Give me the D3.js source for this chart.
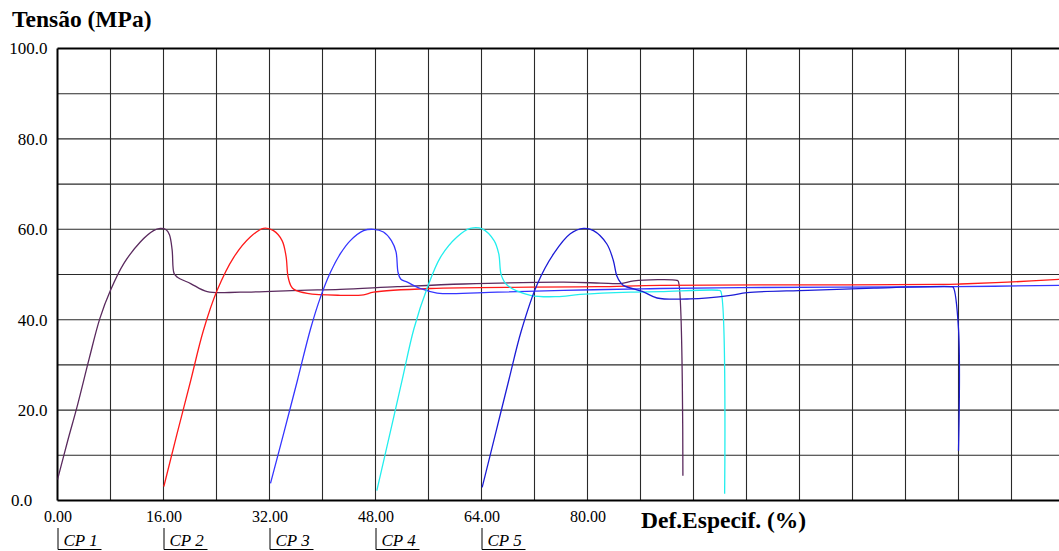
<!DOCTYPE html>
<html>
<head>
<meta charset="utf-8">
<script src="https://cdn.jsdelivr.net/npm/d3@7"></script>
<style>
  html, body { margin: 0; padding: 0; background: #fff; overflow: hidden; }
  svg { display: block; }
  text { font-family: "Liberation Serif", "Times New Roman", serif; }
</style>
</head>
<body>
<svg id="chart" width="1059" height="551"></svg>
<script>
// Specimen names and their starting strain offset (each curve is shifted along the axis)
const specimens = ["CP 1", "CP 2", "CP 3", "CP 4", "CP 5"];
const specimenOffsets = [0, 16, 32, 48, 64];
const specimenColors = ["#5a2a5e", "#ff1a1a", "#3535ff", "#22eeee", "#1c1cd6"];

// Stress–strain readings: [strain (%), stress (MPa)]
const cp1 = [[0.0,4.6],[1.5,13.0],[3.0,21.0],[4.8,31.5],[6.4,40.3],[8.0,46.5],[10.0,52.4],[12.5,57.2],[14.5,59.7],[15.5,60.2],[16.4,59.9],[16.9,58.8],[17.3,55.5],[17.6,50.2],[18.1,49.4],[20.1,48.0],[22.6,46.2],[27.6,46.1],[36.7,46.5],[42.7,46.7],[51.3,47.3],[61.3,47.9],[76.4,48.3],[82.0,48.1],[85.0,48.0],[87.0,48.6],[93.5,48.7],[93.7,48.5],[94.4,5.5]];
const cp2 = [[16.05,3.1],[18.0,14.5],[20.1,26.5],[22.0,37.5],[24.1,46.5],[26.6,53.8],[29.1,58.3],[31.1,60.2],[32.6,59.7],[33.9,57.5],[34.5,54.0],[34.8,49.5],[35.3,47.3],[35.7,46.7],[37.7,45.8],[42.7,45.4],[46.2,45.5],[47.7,46.1],[56.3,46.9],[71.4,47.2],[81.5,47.3],[91.0,47.6],[110.0,47.7],[133.3,47.8],[136.3,47.9],[143.4,48.3],[152.0,49.0]];
const cp3 = [[32.15,3.8],[34.2,15.2],[36.2,26.5],[38.2,38.0],[39.7,45.0],[41.2,50.5],[42.7,54.6],[44.2,57.5],[46.2,59.7],[47.7,60.0],[49.2,59.4],[50.4,57.5],[51.1,55.0],[51.4,50.5],[51.8,49.0],[52.8,48.3],[54.8,46.9],[57.3,45.9],[66.4,46.1],[76.4,46.5],[88.0,46.8],[91.0,46.9],[103.1,47.1],[118.2,47.2],[135.8,47.3],[151.2,47.6],[152.0,47.6]];
const cp4 = [[48.2,2.2],[50.1,14.3],[52.0,26.5],[53.8,38.0],[55.8,47.0],[57.8,53.8],[60.3,58.3],[62.3,60.2],[64.1,60.1],[65.9,57.5],[66.6,54.6],[67.0,49.8],[67.9,47.6],[71.4,45.4],[75.4,45.1],[78.9,45.6],[86.5,46.1],[91.0,46.2],[99.8,46.5],[100.1,46.3],[100.7,1.5]];
const cp5 = [[64.1,2.9],[66.1,14.7],[68.1,26.5],[70.0,37.5],[72.4,47.8],[74.9,54.6],[77.4,59.0],[79.4,60.2],[80.9,59.7],[82.9,56.8],[83.9,53.1],[84.4,49.8],[85.0,48.2],[85.4,47.6],[88.5,46.1],[90.5,44.8],[95.5,44.6],[101.6,45.4],[104.1,46.0],[113.2,46.5],[123.2,47.0],[135.0,47.3],[135.2,47.2],[136.0,38.0],[136.0,11.0]];
const series = [cp1, cp2, cp3, cp4, cp5];

// Axis ticks
const xTickValues = [0, 16, 32, 48, 64, 80];
const yTickValues = [0, 20, 40, 60, 80, 100];
const xGridStep = 8;
const yGridStep = 10;

const svg = d3.select("#chart");
const W = 1059, H = 551;
const plotLeft = 57.5, plotTop = 48.5, plotBottom = 500.5;

// The plotted strain range runs past the right edge of the page
const x = d3.scaleLinear().domain([0, 160]).range([plotLeft, plotLeft + 1060]);
const y = d3.scaleLinear().domain([0, 100]).range([plotBottom, plotTop]);

svg.append("rect").attr("width", W).attr("height", H).attr("fill", "#fff");

// Grid
const grid = svg.append("g").attr("stroke", "#2a2a2a").attr("stroke-width", 1.1);
grid.selectAll("line.v")
  .data(d3.range(xGridStep, 160 + 0.001, xGridStep))
  .join("line")
  .attr("class", "v")
  .attr("x1", d => x(d)).attr("x2", d => x(d))
  .attr("y1", y(100)).attr("y2", y(0));
grid.selectAll("line.h")
  .data(d3.range(yGridStep, 100, yGridStep))
  .join("line")
  .attr("class", "h")
  .attr("x1", x(0)).attr("x2", x(160))
  .attr("y1", d => y(d)).attr("y2", d => y(d));

// Frame: top, left and bottom edges
const frame = svg.append("g").attr("stroke", "#000").attr("stroke-width", 2);
frame.append("line").attr("x1", x(0)).attr("x2", x(160)).attr("y1", y(100)).attr("y2", y(100));
frame.append("line").attr("x1", x(0)).attr("x2", x(160)).attr("y1", y(0)).attr("y2", y(0));
frame.append("line").attr("x1", x(0)).attr("x2", x(0)).attr("y1", y(100)).attr("y2", y(0));

// Curves
svg.append("clipPath").attr("id", "plotClip")
  .append("rect").attr("x", x(0)).attr("y", y(100)).attr("width", x(160) - x(0)).attr("height", y(0) - y(100));

const line = d3.line()
  .x(d => x(d[0]))
  .y(d => y(d[1]))
  .curve(d3.curveCatmullRom.alpha(0.5));

svg.append("g").attr("clip-path", "url(#plotClip)")
  .selectAll("path")
  .data(series)
  .join("path")
  .attr("d", line)
  .attr("fill", "none")
  .attr("stroke", (d, i) => specimenColors[i])
  .attr("stroke-width", 1.3)
  .attr("stroke-linejoin", "round");

// Y axis labels (the zero label sits at the left margin)
const yAxis = d3.axisLeft(y).tickValues(yTickValues).tickFormat(d3.format(".1f")).tickSize(0);
const yg = svg.append("g").attr("transform", `translate(${x(0) - 7},0)`).call(yAxis);
yg.select(".domain").remove();
yg.selectAll("text")
  .attr("font-family", "Liberation Serif, serif").attr("font-size", 17).attr("fill", "#000");
yg.selectAll(".tick").filter(d => d === 0).select("text")
  .attr("text-anchor", "start").attr("x", 11 - (x(0) - 7));

// X axis labels
const xAxis = d3.axisBottom(x).tickValues(xTickValues).tickFormat(d3.format(".2f")).tickSize(0);
const xg = svg.append("g").attr("transform", `translate(0,${y(0) + 7})`).call(xAxis);
xg.select(".domain").remove();
xg.selectAll("text").attr("font-family", "Liberation Serif, serif").attr("font-size", 16).attr("fill", "#000");

// Axis titles
svg.append("text").attr("x", 12).attr("y", 27)
  .attr("font-size", 23.5).attr("font-weight", "bold").text("Tensão (MPa)");
svg.append("text").attr("x", 641).attr("y", 528)
  .attr("font-size", 23.5).attr("font-weight", "bold").text("Def.Especif. (%)");

// Specimen markers under the axis
const legend = svg.append("g").selectAll("g").data(specimens).join("g")
  .attr("transform", (d, i) => `translate(${x(specimenOffsets[i])},0)`);
legend.append("path")
  .attr("d", "M0.5,528V549.5H44")
  .attr("fill", "none").attr("stroke", "#000").attr("stroke-width", 1);
legend.append("text").attr("x", 6).attr("y", 546)
  .attr("font-size", 17).attr("font-style", "italic").text(d => d);
</script>
</body>
</html>
